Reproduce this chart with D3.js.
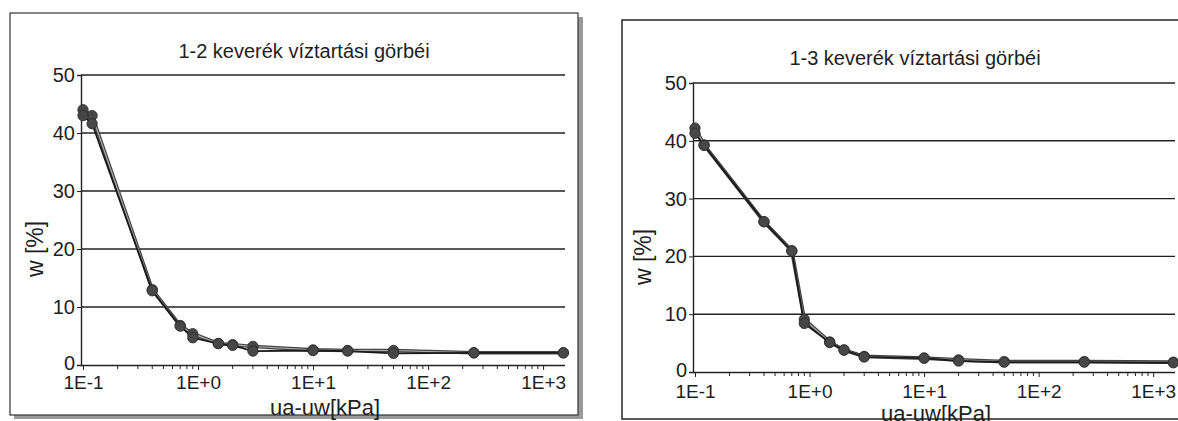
<!DOCTYPE html>
<html>
<head>
<meta charset="utf-8">
<script src="https://cdn.jsdelivr.net/npm/d3@7"></script>
<style>
  html, body { margin: 0; padding: 0; background: #fff; }
  svg { display: block; }
  text { font-family: "Liberation Sans", Arial, sans-serif; fill: #1e1e1e; }
</style>
</head>
<body>
<svg id="chart" width="1178" height="421"></svg>
<script>
// ---- data ----
const suction = [0.1, 0.12, 0.4, 0.7, 0.9, 1.5, 2, 3, 10, 20, 50, 250, 1500];
const w12Upper = [44, 43, 13, 6.8, 5.4, 3.7, 3.5, 3.2, 2.6, 2.5, 2.5, 2.1, 2.1];
const w12Lower = [43, 41.6, 12.8, 6.7, 4.7, 3.7, 3.4, 2.4, 2.5, 2.4, 2.0, 2.1, 2.1];
const w13Upper = [42.2, 39.3, 26, 21, 9.1, 5.2, 3.8, 2.7, 2.4, 2.1, 1.8, 1.8, 1.7];
const w13Lower = [41.3, 39.2, 26, 20.9, 8.4, 5.1, 3.8, 2.6, 2.4, 1.9, 1.7, 1.7, 1.6];
const yTicks = [0, 10, 20, 30, 40, 50];
const xTicks = [0.1, 1, 10, 100, 1000];
const xTickLabels = ["1E-1", "1E+0", "1E+1", "1E+2", "1E+3"];
const titles = ["1-2 keverék víztartási görbéi", "1-3 keverék víztartási görbéi"];
const xTitle = "ua-uw[kPa]";
const yTitle = "w [%]";

const svg = d3.select("#chart");
const FONT = "'Liberation Sans', Arial, sans-serif";

function drawChart(cfg) {
  const g = svg.append("g");
  // frame + shadow
  if (cfg.shadow) {
    g.append("rect").attr("x", cfg.frame[0] + cfg.frame[2]).attr("y", cfg.frame[1] + 4)
      .attr("width", 5).attr("height", cfg.frame[3]).attr("fill", "#9a9a9a");
    g.append("rect").attr("x", cfg.frame[0] + 4).attr("y", cfg.frame[1] + cfg.frame[3])
      .attr("width", cfg.frame[2] + 1).attr("height", 4).attr("fill", "#9a9a9a");
  }
  g.append("rect").attr("x", cfg.frame[0]).attr("y", cfg.frame[1])
    .attr("width", cfg.frame[2]).attr("height", cfg.frame[3])
    .attr("fill", "#fff").attr("stroke", "#333").attr("stroke-width", cfg.frameW || 1.2);

  const x = d3.scaleLog().domain([0.1, 1550]).range(cfg.xr);
  const y = d3.scaleLinear().domain([0, 50]).range(cfg.yr);
  const x0 = cfg.xr[0], x1 = cfg.xr[1], y0 = cfg.yr[0];

  // gridlines
  g.selectAll(".grid").data(yTicks.filter(d => d > 0)).join("line")
    .attr("x1", x0 - 2).attr("x2", x1)
    .attr("y1", d => y(d)).attr("y2", d => y(d))
    .attr("stroke", "#222").attr("stroke-width", 1.4);

  // y axis
  const yAx = d3.axisLeft(y).tickValues(yTicks).tickSize(4).tickPadding(2).tickFormat(d3.format("d"));
  const ya = g.append("g").attr("transform", `translate(${x0 - 2},0)`).call(yAx);
  ya.select(".domain").attr("stroke", "#222").attr("stroke-width", 1.4);
  ya.selectAll(".tick line").attr("stroke", "#222");
  ya.selectAll("text").attr("font-size", 20).attr("fill", "#1e1e1e").attr("font-family", FONT)
    .attr("dy", d => d === 0 ? "0.2em" : "0.32em");

  // x axis (major ticks + minor ticks)
  const minor = [];
  for (let e = -1; e <= 3; e++) for (let m = 2; m <= 9; m++) {
    const v = m * Math.pow(10, e);
    if (v <= 1550) minor.push(v);
  }
  const xAx = d3.axisBottom(x).tickValues(xTicks).tickSize(5).tickPadding(cfg.xpad)
    .tickFormat((d, i) => xTickLabels[i]);
  const xa = g.append("g").attr("transform", `translate(0,${y0})`).call(xAx);
  xa.select(".domain").attr("stroke", "#222").attr("stroke-width", 1.4)
    .attr("d", `M${x0 - 2},0.5H${x1}`);
  xa.selectAll(".tick line").attr("stroke", "#222");
  xa.selectAll("text").attr("font-size", 19).attr("fill", "#1e1e1e").attr("font-family", FONT);
  g.selectAll(".minor").data(minor).join("line")
    .attr("x1", d => x(d)).attr("x2", d => x(d))
    .attr("y1", y0).attr("y2", y0 + 4)
    .attr("stroke", "#222").attr("stroke-width", 1);

  // series
  const line = d3.line().x(d => x(d[0])).y(d => y(d[1]));
  const up = suction.map((s, i) => [s, cfg.upper[i]]);
  const lo = suction.map((s, i) => [s, cfg.lower[i]]);
  g.append("path").datum(up).attr("d", line).attr("fill", "none")
    .attr("stroke", "#444").attr("stroke-width", 3.6);
  g.append("path").datum(up).attr("d", line).attr("fill", "none")
    .attr("stroke", "#aaa").attr("stroke-width", 1.2);
  g.append("path").datum(lo).attr("d", line).attr("fill", "none")
    .attr("stroke", "#1a1a1a").attr("stroke-width", 1.8);
  [up, lo].forEach(s => {
    g.selectAll(null).data(s).join("circle")
      .attr("cx", d => x(d[0])).attr("cy", d => y(d[1])).attr("r", 5.2)
      .attr("fill", "#474747").attr("stroke", "#2a2a2a").attr("stroke-width", 0.8);
  });

  // titles
  g.append("text").attr("x", cfg.title[0]).attr("y", cfg.title[1])
    .attr("text-anchor", "middle").attr("font-size", 20).text(cfg.titleText);
  g.append("text").attr("x", cfg.xt[0]).attr("y", cfg.xt[1])
    .attr("text-anchor", "middle").attr("font-size", 22).text(xTitle);
  g.append("text").attr("transform", `translate(${cfg.yt[0]},${cfg.yt[1]}) rotate(-90)`)
    .attr("text-anchor", "middle").attr("dy", "0.35em").attr("font-size", 23).text(yTitle);
}

drawChart({
  frame: [10, 13, 568, 402], shadow: true,
  xr: [83, 565], yr: [365, 75], xpad: 6,
  upper: w12Upper, lower: w12Lower,
  title: [304, 58], titleText: titles[0],
  xt: [325, 415], yt: [35, 249]
});
drawChart({
  frame: [622, 20, 570, 399], shadow: false, frameW: 1.6,
  xr: [695, 1175], yr: [372, 83], xpad: 8,
  upper: w13Upper, lower: w13Lower,
  title: [915, 65], titleText: titles[1],
  xt: [936, 421], yt: [643, 257]
});
</script>
</body>
</html>
